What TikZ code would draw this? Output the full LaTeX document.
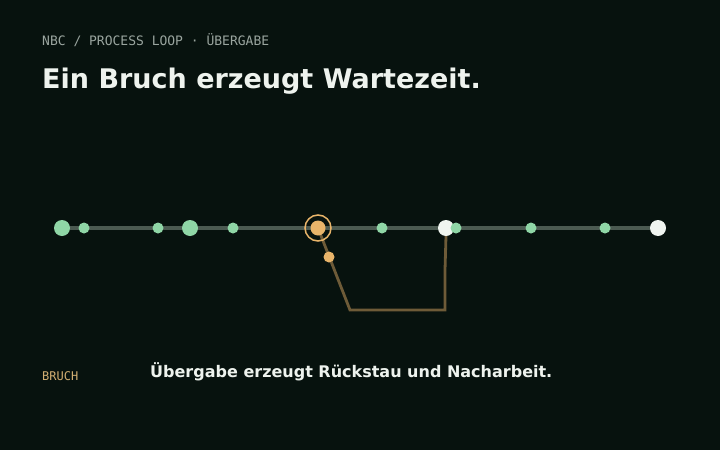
\documentclass[tikz,border=0pt]{standalone}
\usepackage{fontspec}
\setmainfont{DejaVu Sans}
\newfontfamily\monofnt{DejaVu Sans Mono}
\definecolor{bg}{HTML}{07120E}
\definecolor{linecol}{HTML}{4B5A51}
\definecolor{green}{HTML}{8FD6A6}
\definecolor{whitedot}{HTML}{F0F5F0}
\definecolor{orange}{HTML}{E8B46A}
\definecolor{brown}{HTML}{6E5B38}
\definecolor{graytxt}{HTML}{9AA59F}
\definecolor{titletxt}{HTML}{EEF3EE}
\definecolor{bruchtxt}{HTML}{D2AF72}
\tikzset{
  big/.style={circle,fill=green,minimum size=16pt,inner sep=0pt},
  small/.style={circle,fill=green,minimum size=11pt,inner sep=0pt},
  endw/.style={circle,fill=whitedot,minimum size=16pt,inner sep=0pt},
  brk/.style={circle,fill=orange,minimum size=15pt,inner sep=0pt},
  brkring/.style={circle,draw=orange,line width=1.5pt,minimum size=26pt,inner sep=0pt},
  smallorange/.style={circle,fill=orange,minimum size=11pt,inner sep=0pt},
  txt/.style={anchor=base west,inner sep=0pt}
}
\begin{document}
\begin{tikzpicture}[x=1pt,y=-1pt]
\fill[bg] (0,0) rectangle (720,450);
\useasboundingbox (0,0) rectangle (720,450);
\node[txt,text=graytxt,font=\monofnt\fontsize{13}{15}\selectfont] (kicker) at (42,45) {NBC / PROCESS LOOP · ÜBERGABE};
\node[txt,text=titletxt,font=\bfseries\fontsize{27}{32}\selectfont] (title) at (42,88) {Ein Bruch erzeugt Wartezeit.};
\coordinate (ls) at (62,228);
\coordinate (le) at (658,228);
\draw[linecol,line width=4pt] (ls) -- (le);
\coordinate (turn) at (350,310);
\coordinate (turn2) at (445,310);
\coordinate (kink) at (445,270);
\draw[brown,line width=2.8pt] (318,228) -- (turn) -- (turn2) -- (kink) -- (446,236);
\node[big] (n1) at (62,228) {};
\node[small] (n2) at (84,228) {};
\node[small] (n3) at (158,228) {};
\node[big] (n4) at (190,228) {};
\node[small] (n5) at (233,228) {};
\node[brkring] (ring) at (318,228) {};
\node[brk] (brk) at (318,228) {};
\node[small] (n7) at (382,228) {};
\node[endw] (w1) at (446,228) {};
\node[small] (n8) at (456,228) {};
\node[small] (n9) at (531,228) {};
\node[small] (n10) at (605,228) {};
\node[endw] (w2) at (658,228) {};
\node[smallorange] (od) at (329,257) {};
\node[txt,text=bruchtxt,font=\monofnt\fontsize{12}{14}\selectfont] (bruch) at (42,380) {BRUCH};
\node[txt,text=titletxt,font=\bfseries\fontsize{16}{19}\selectfont] (caption) at (150,377) {Übergabe erzeugt Rückstau und Nacharbeit.};
\end{tikzpicture}
\end{document}
